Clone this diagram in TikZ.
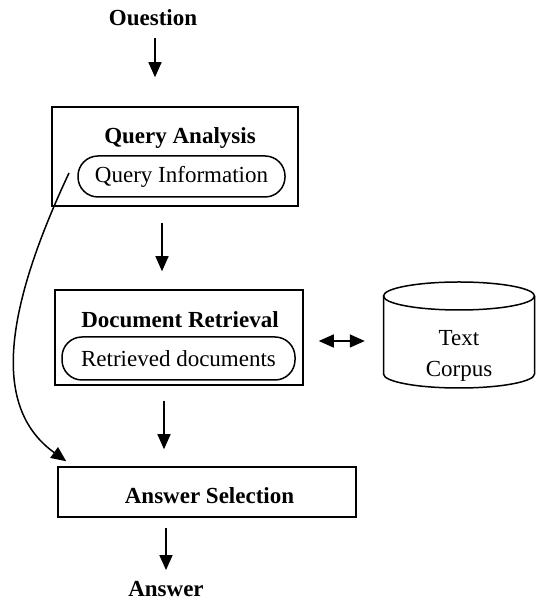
\documentclass[tikz,border=0pt]{standalone}
\usepackage{fontspec}
\setmainfont{Liberation Serif}
\usetikzlibrary{arrows.meta}
\begin{document}
\begin{tikzpicture}[x=1pt, y=1pt,
    every node/.style={font=\fontsize{23}{31}\selectfont},
    title/.style={font=\fontsize{23}{31}\selectfont\bfseries},
    block/.style={draw, line width=1.5pt, inner sep=0pt},
    pill/.style={draw, line width=1.5pt, rounded corners=20pt, inner sep=0pt},
    flow/.style={-{Triangle[length=15pt,width=13pt]}, line width=1.5pt},
    both/.style={{Triangle[length=15pt,width=13pt]}-{Triangle[length=15pt,width=13pt]}, line width=1.5pt}]
    \useasboundingbox (0,0) rectangle (536,601);

    % Stages
    \node[title] (question) at (153,583) {Ouestion};
    \node[block, minimum width=246, minimum height=99] (qa) at (175,444.5) {};
    \node[title] (qatitle) at (180,463) {Query Analysis};
    \node[pill, minimum width=207, minimum height=41] (qinfo) at (181.5,424.5) {Query Information};
    \node[block, minimum width=248, minimum height=95] (dr) at (179,263.5) {};
    \node[title] (drtitle) at (180,281) {Document Retrieval};
    \node[pill, minimum width=233, minimum height=43] (rdocs) at (178.5,242.5) {Retrieved documents};
    \node[block, minimum width=298, minimum height=50] (sel) at (207,109) {};
    \node[title] (seltitle) at (209.5,105) {Answer Selection};
    \node[title, inner sep=1pt] (answer) at (166,12) {Answer};

    % Text corpus cylinder
    \draw[line width=1.5pt] (383.5,305) -- (383.5,227) arc[start angle=180, end angle=360, x radius=75.5, y radius=14] -- (534.5,305);
    \draw[line width=1.5pt] (459,305) ellipse[x radius=75.5, y radius=14];
    \node[minimum width=151, minimum height=106, inner sep=0pt] (corpus) at (459,266) {};
    \node[align=center] (corpustext) at (459,245) {Text\\Corpus};

    % Flow
    \draw[flow, shorten <=8.5pt, shorten >=29pt] ([xshift=2pt]question.south) -- ([xshift=2pt]question.south |- qa.north);
    \draw[flow, shorten <=16pt, shorten >=18pt] ([xshift=-13pt]qa.south) -- ([xshift=-13pt]qa.south |- dr.north);
    \draw[flow, shorten <=15pt, shorten >=17pt] ([xshift=-15pt]dr.south) -- ([xshift=-15pt]dr.south |- sel.north);
    \draw[flow, shorten <=10pt, shorten >=10pt] (answer |- sel.south) -- (answer.north);
    \draw[both, shorten <=15pt, shorten >=18.5pt] ([yshift=-3.5pt]dr.east) -- ([yshift=-3.5pt]dr.east -| corpus.west);

    % Shortcut from query information to answer selection
    \coordinate (qcurve) at (69,428);
    \draw[flow] (qcurve) .. controls (0,281) and (-5,191) .. ([xshift=9pt,yshift=5pt]sel.north west);
\end{tikzpicture}
\end{document}
